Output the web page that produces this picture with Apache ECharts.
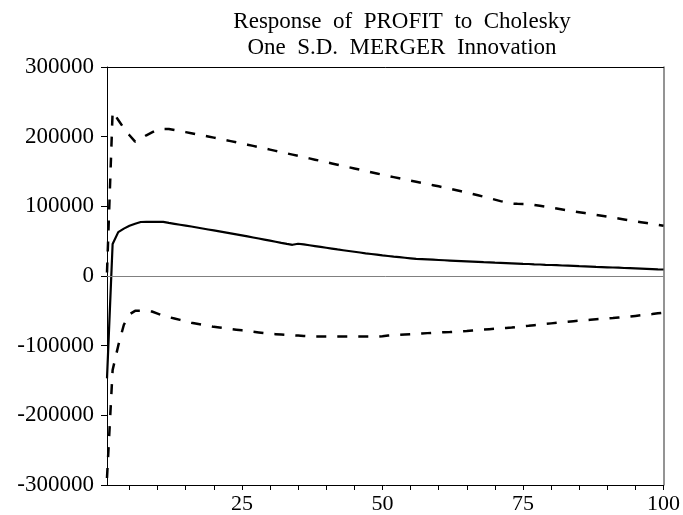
<!DOCTYPE html>
<html>
<head>
<meta charset="utf-8">
<style>
html,body{margin:0;padding:0;background:#fff;}
#chart{width:683px;height:515px;}
</style>
<script src="https://cdn.jsdelivr.net/npm/echarts@6/dist/echarts.min.js"></script>
</head>
<body>
<div id="chart"></div>
<script>
var titleLines = ["Response  of  PROFIT  to  Cholesky", "One  S.D.  MERGER  Innovation"];
var periods = [];
for (var p = 1; p <= 100; p++) periods.push(String(p));
var yTicks = [-300000, -200000, -100000, 0, 100000, 200000, 300000];
var xTickLabels = ["25", "50", "75", "100"];

var response = [
 -147000, 46000, 63000, 68000, 72000, 75000, 77500, 77600, 77600, 77600,
 77600, 76200, 74900, 73600, 72300, 71000, 69600, 68200, 66800, 65400,
 64000, 62600, 61200, 59800, 58300, 56800, 55300, 53800, 52300, 50700,
 49100, 47500, 46000, 44800, 46300, 45300, 44100, 42900, 41700, 40500,
 39300, 38100, 37000, 35900, 34800, 33700, 32600, 31600, 30600, 29600,
 28700, 27800, 27000, 26200, 25400, 24600, 24200, 23800, 23400, 23000,
 22600, 22200, 21800, 21400, 21000, 20600, 20200, 19800, 19500, 19100,
 18800, 18500, 18200, 17900, 17500, 17200, 16800, 16500, 16100, 15800,
 15500, 15100, 14800, 14500, 14100, 13800, 13500, 13100, 12800, 12500,
 12200, 11900, 11500, 11200, 10900, 10600, 10300, 10000, 9600, 9300
];
var upper = [
 5000, 236000, 224000, 212000, 202000, 193000, 197000, 202000, 206000, 210000,
 211000, 211000, 209500, 208000, 206500, 205000, 203400, 201800, 200200, 198600,
 197000, 195300, 193600, 191900, 190200, 188500, 186800, 185000, 183200, 181400,
 179600, 177800, 176000, 174200, 172400, 170600, 168800, 167000, 165200, 163400,
 161600, 159800, 158000, 156200, 154400, 152600, 150800, 149000, 147200, 145400,
 143600, 141900, 140200, 138500, 136900, 135300, 133700, 132100, 130400, 128700,
 127000, 125300, 123500, 121700, 119800, 117900, 115900, 113800, 111700, 109600,
 107500, 105600, 104000, 103600, 103400, 103300, 102000, 100700, 99400, 98100,
 96800, 95500, 94200, 92900, 91600, 90300, 89000, 87700, 86400, 85100,
 83800, 82500, 81200, 79900, 78600, 77300, 76000, 74700, 73400, 72100
];
var lower = [
 -290000, -135000, -100000, -70000, -55000, -50000, -50000, -50000, -51000, -54000,
 -57000, -59000, -61000, -63000, -65000, -67000, -68500, -70000, -71500, -73000,
 -74000, -75000, -76000, -77000, -78000, -79000, -80000, -81000, -82000, -83000,
 -83500, -84000, -84500, -85000, -85500, -86000, -86500, -87000, -87000, -87000,
 -87000, -87000, -87000, -87000, -87000, -87000, -87000, -87000, -87000, -86500,
 -85500, -85000, -84500, -84000, -83500, -83000, -82500, -82000, -81500, -81000,
 -80700, -80400, -80000, -79500, -79000, -78300, -77600, -77000, -76400, -75800,
 -75200, -74600, -74000, -73000, -72300, -71500, -70600, -69700, -68800, -68000,
 -67200, -66400, -65600, -64900, -64200, -63500, -62800, -62100, -61500, -61000,
 -60400, -59700, -59000, -58200, -57300, -56400, -55500, -54600, -53600, -52700
];

var FONT = "'Liberation Serif', 'Times New Roman', serif";
var chart = echarts.init(document.getElementById('chart'), null, {renderer: 'canvas'});
chart.setOption({
  animation: false,
  backgroundColor: '#ffffff',
  title: {
    text: titleLines.join('\n'),
    left: 397,
    top: 4,
    textAlign: 'center',
    textStyle: {fontFamily: FONT, fontSize: 23, fontWeight: 'normal', color: '#000', lineHeight: 26}
  },
  grid: {left: 107, right: 14, top: 67, bottom: 29, containLabel: false},
  xAxis: [{
    type: 'category',
    data: periods,
    boundaryGap: false,
    axisLine: {onZero: false, lineStyle: {color: '#000', width: 1}},
    axisTick: {
      show: true, length: 5, inside: false,
      interval: function (i, v) { return Number(v) % 5 === 0; },
      lineStyle: {color: '#000', width: 1}
    },
    axisLabel: {
      margin: 8,
      interval: function (i, v) { return xTickLabels.indexOf(v) >= 0; },
      fontFamily: FONT, fontSize: 22, color: '#000'
    },
    splitLine: {show: false}
  }, {
    type: 'category',
    data: periods,
    boundaryGap: false,
    position: 'top',
    axisLine: {onZero: false, lineStyle: {color: '#000', width: 1}},
    axisTick: {show: false},
    axisLabel: {show: false},
    splitLine: {show: false}
  }],
  yAxis: [{
    type: 'value',
    min: yTicks[0],
    max: yTicks[yTicks.length - 1],
    interval: 100000,
    axisLine: {show: true, onZero: false, lineStyle: {color: '#000', width: 1}},
    axisTick: {show: true, length: 6, inside: false, lineStyle: {color: '#000', width: 1}},
    axisLabel: {margin: 13, fontFamily: FONT, fontSize: 23, color: '#000',
      formatter: function (v) { return String(v); }},
    splitLine: {show: false}
  }, {
    type: 'value',
    min: yTicks[0],
    max: yTicks[yTicks.length - 1],
    interval: 100000,
    position: 'right',
    axisLine: {show: true, onZero: false, lineStyle: {color: '#707070', width: 1.5}},
    axisTick: {show: false},
    axisLabel: {show: false},
    splitLine: {show: false}
  }],
  series: [{
    type: 'line',
    data: response,
    symbol: 'none',
    lineStyle: {color: '#000', width: 2.2},
    markLine: {
      silent: true,
      symbol: ['none', 'none'],
      label: {show: false},
      lineStyle: {color: '#808080', width: 1, type: 'solid'},
      data: [{yAxis: 0}]
    },
    z: 3
  }, {
    type: 'line',
    data: upper,
    symbol: 'none',
    lineStyle: {color: '#000', width: 2.5, type: [10, 11]},
    z: 3
  }, {
    type: 'line',
    data: lower,
    symbol: 'none',
    lineStyle: {color: '#000', width: 2.5, type: [10, 11]},
    z: 3
  }]
});
</script>
</body>
</html>
